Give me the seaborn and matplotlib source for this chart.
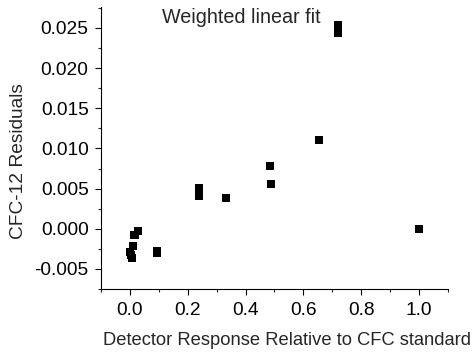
import matplotlib
matplotlib.use("Agg")
import matplotlib.pyplot as plt
import seaborn as sns
import pandas as pd
from matplotlib.ticker import MultipleLocator

response = [0.721, 0.720, 0.654, 0.486, 0.489, 0.239, 0.240, 0.332, 0.999,
            0.093, 0.093, 0.028, 0.016, 0.012, 0.000, 0.004, 0.007]
residuals = [0.02542, 0.02438, 0.01107, 0.0078, 0.00556, 0.0051, 0.0041, 0.00386, 0.0,
             -0.00274, -0.00306, -0.00033, -0.00078, -0.00219, -0.00294, -0.0033, -0.00368]
xticks = [0.0, 0.2, 0.4, 0.6, 0.8, 1.0]
yticks = [-0.005, 0.0, 0.005, 0.010, 0.015, 0.020, 0.025]

df = pd.DataFrame({"x": response, "y": residuals})

sns.set_style("ticks")
plt.rcParams['font.family'] = ['Liberation Sans', 'DejaVu Sans']

fig = plt.figure(figsize=(4.72, 3.54), dpi=100)
ax = fig.add_axes([0.214, 0.1836, 0.735, 0.7964])
sns.scatterplot(data=df, x="x", y="y", marker="s", s=34, color="black",
                edgecolor="none", ax=ax)

ax.set_xlim(-0.1, 1.1)
ax.set_ylim(-0.0075, 0.0276)
ax.xaxis.set_minor_locator(MultipleLocator(0.1))
ax.yaxis.set_minor_locator(MultipleLocator(0.0025))
ax.set_xticks(xticks)
ax.set_xticklabels([f"{v:.1f}" for v in xticks])
ax.set_yticks(yticks)
ax.set_yticklabels([f"{v:.3f}" for v in yticks])
ax.tick_params(axis="both", which="major", length=4, width=0.8, labelsize=13.8,
               colors="black", pad=5)
ax.tick_params(axis="both", which="minor", length=2.5, width=0.8)
for sp in ["top", "right"]:
    ax.spines[sp].set_visible(False)
for sp in ["left", "bottom"]:
    ax.spines[sp].set_linewidth(0.8)
    ax.spines[sp].set_color("black")

ax.set_xlabel("Detector Response Relative to CFC standard", fontsize=13.2)
ax.set_ylabel("CFC-12 Residuals", fontsize=13.8)
ax.xaxis.set_label_coords(0.535, -0.152)
ax.yaxis.set_label_coords(-0.213, 0.454)
ax.text(0.385, 0.02633, "Weighted linear fit", fontsize=14.2, ha="center", va="center")

fig.savefig("out.png", dpi=100)
